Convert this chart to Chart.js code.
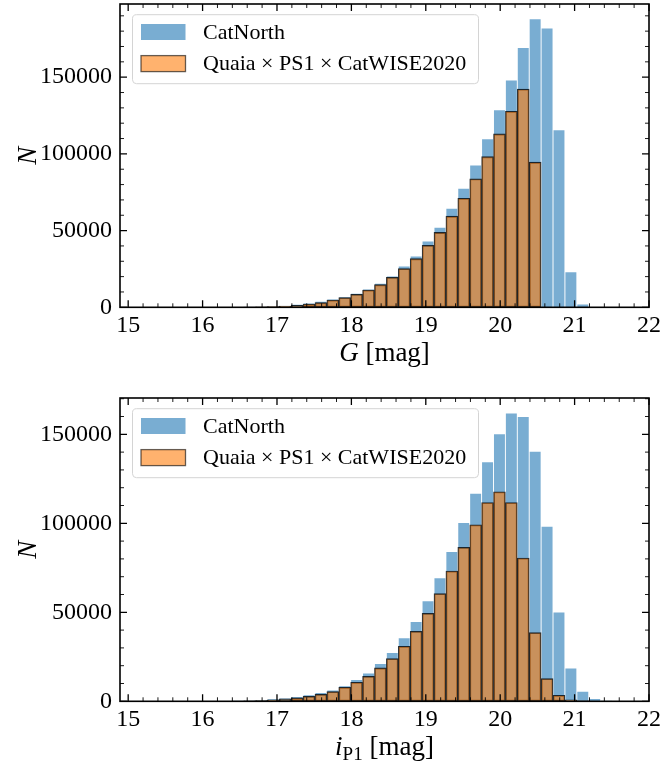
<!DOCTYPE html>
<html>
<head>
<meta charset="utf-8">
<script src="https://cdn.jsdelivr.net/npm/chart.js@4.4.1/dist/chart.umd.min.js"></script>
<style>
    html, body { margin: 0; padding: 0; background: #fff; overflow: hidden; }
    canvas { display: block; position: absolute; left: 0; }
</style>
</head>
<body>
<canvas id="hist-g" width="660" height="394" style="top:0px"></canvas>
<canvas id="hist-i" width="660" height="394" style="top:394px"></canvas>
<script>
// centres des classes (largeur 0.16 mag)
const binCenters = [15.99, 16.15, 16.31, 16.47, 16.63, 16.79, 16.95, 17.11, 17.27, 17.43,
    17.59, 17.75, 17.91, 18.07, 18.23, 18.39, 18.55, 18.71, 18.87, 19.03,
    19.19, 19.35, 19.51, 19.67, 19.83, 19.99, 20.15, 20.31, 20.47, 20.63,
    20.79, 20.95, 21.11, 21.27, 21.43, 21.59];

// panneau du haut : G
const catNorthG = [0, 0, 50, 100, 200, 400, 700, 1200, 1950, 2800,
    3900, 5400, 6900, 9100, 11900, 15650, 20400, 26900, 33500, 43250,
    52200, 64600, 77600, 92800, 109800, 128700, 148100, 169300, 188100, 182000,
    115700, 23200, 2150, 100, 0, 0];
const quaiaG = [0, 0, 0, 50, 100, 250, 450, 800, 1300, 2150,
    3000, 4750, 6300, 8450, 11300, 14750, 19550, 25200, 31700, 40400,
    48800, 59400, 71100, 83700, 98200, 113000, 127800, 142200, 94600, 0,
    0, 0, 0, 0, 0, 0];

// panneau du bas : i_P1
const catNorthI = [0, 50, 100, 200, 450, 950, 1350, 1900, 2650, 3600,
    4900, 6400, 8650, 12200, 15950, 21150, 27350, 35750, 44750, 56500,
    69450, 84200, 100500, 116800, 134600, 150300, 161900, 160000, 140400, 98300,
    50200, 18750, 5600, 1500, 300, 0];
const quaiaI = [0, 0, 50, 100, 200, 400, 800, 1350, 1900, 2800,
    3900, 5450, 7900, 10700, 14000, 18750, 24000, 30900, 39300, 49400,
    60500, 73200, 86500, 99200, 111700, 117700, 111700, 80500, 38600, 12750,
    3400, 800, 200, 0, 0, 0];

const xTicks = [15, 16, 17, 18, 19, 20, 21, 22];
const yTicks = [0, 50000, 100000, 150000];
const seriesLabels = ['CatNorth', 'Quaia \u00d7 PS1 \u00d7 CatWISE2020'];

const serif = "'Liberation Serif', 'Times New Roman', serif";
const blueFill = 'rgba(31, 119, 180, 0.6)';
const orangeFill = 'rgba(255, 127, 14, 0.6)';
const edgeColor = 'rgba(0, 0, 0, 0.6)';
const barEdgeColor = 'rgba(0, 0, 0, 0.78)';

Chart.defaults.font.family = serif;
Chart.defaults.color = '#000';

function toPoints(values) {
    return binCenters.map((x, i) => ({ x: x, y: values[i] }));
}

// cadre, graduations vers l'intérieur, légende et titres des axes
const decorations = {
    id: 'decorations',
    afterDraw(chart, args, opts) {
        const ctx = chart.ctx;
        const a = chart.chartArea;
        const xs = chart.scales.x;
        const ys = chart.scales.y;
        ctx.save();
        ctx.strokeStyle = '#000';

        // graduations mineures
        ctx.lineWidth = 0.9;
        ctx.beginPath();
        for (let k = 70; k <= 110; k++) {
            const v = k / 5;
            if (k % 5 === 0 || v < xs.min || v > xs.max) continue;
            const px = xs.getPixelForValue(v);
            ctx.moveTo(px, a.bottom); ctx.lineTo(px, a.bottom - 4);
            ctx.moveTo(px, a.top); ctx.lineTo(px, a.top + 4);
        }
        for (let v = 10000; v < ys.max; v += 10000) {
            if (v % 50000 === 0) continue;
            const py = ys.getPixelForValue(v);
            ctx.moveTo(a.left, py); ctx.lineTo(a.left + 4, py);
            ctx.moveTo(a.right, py); ctx.lineTo(a.right - 4, py);
        }
        ctx.stroke();

        // graduations majeures
        ctx.lineWidth = 1.3;
        ctx.beginPath();
        xTicks.forEach(v => {
            const px = xs.getPixelForValue(v);
            ctx.moveTo(px, a.bottom); ctx.lineTo(px, a.bottom - 7);
            ctx.moveTo(px, a.top); ctx.lineTo(px, a.top + 7);
        });
        yTicks.forEach(v => {
            const py = ys.getPixelForValue(v);
            ctx.moveTo(a.left, py); ctx.lineTo(a.left + 7, py);
            ctx.moveTo(a.right, py); ctx.lineTo(a.right - 7, py);
        });
        ctx.stroke();

        // cadre
        ctx.lineWidth = 1.6;
        ctx.strokeRect(a.left, a.top, a.right - a.left, a.bottom - a.top);

        // légende
        const bx = a.left + 12.5, by = a.top + 10.7, bw = 346, bh = 69;
        ctx.beginPath();
        if (ctx.roundRect) ctx.roundRect(bx, by, bw, bh, 4); else ctx.rect(bx, by, bw, bh);
        ctx.fillStyle = 'rgba(255, 255, 255, 0.8)';
        ctx.fill();
        ctx.lineWidth = 1;
        ctx.strokeStyle = '#d4d4d4';
        ctx.stroke();

        ctx.font = '22px ' + serif;
        ctx.textBaseline = 'middle';
        ctx.textAlign = 'left';
        chart.data.datasets.forEach((ds, i) => {
            const cy = by + 17.3 + i * 31.6;
            ctx.fillStyle = ds.backgroundColor;
            ctx.fillRect(bx + 8.5, cy - 8, 44.5, 16);
            if (ds.borderSkipped === false) {
                ctx.lineWidth = 1.3;
                ctx.strokeStyle = edgeColor;
                ctx.strokeRect(bx + 8.5, cy - 8, 44.5, 16);
            }
            ctx.fillStyle = '#000';
            ctx.fillText(ds.label, bx + 70.5, cy + 1);
        });

        // titre de l'axe x (texte mixte italique / indice)
        const parts = opts.xTitle;
        const fontOf = p => (p.italic ? 'italic ' : '') + (p.sub ? '19px ' : '27px ') + serif;
        let total = 0;
        parts.forEach(p => { ctx.font = fontOf(p); total += ctx.measureText(p.text).width; });
        let cx = (a.left + a.right) / 2 - total / 2;
        const base = a.bottom + 53.5;
        ctx.textBaseline = 'alphabetic';
        ctx.fillStyle = '#000';
        parts.forEach(p => {
            ctx.font = fontOf(p);
            ctx.fillText(p.text, cx, base + (p.sub ? 5 : 0));
            cx += ctx.measureText(p.text).width;
        });

        // titre de l'axe y
        ctx.save();
        ctx.translate(36, (a.top + a.bottom) / 2);
        ctx.rotate(-Math.PI / 2);
        ctx.font = 'italic 27px ' + serif;
        ctx.textAlign = 'center';
        ctx.fillText('N', 0, 0);
        ctx.restore();

        ctx.restore();
    }
};

function createHistogram(canvasId, blueValues, orangeValues, yMax, xTitle) {
    const ctx = document.getElementById(canvasId).getContext('2d');
    return new Chart(ctx, {
        type: 'bar',
        data: {
            datasets: [
                {
                    label: seriesLabels[0],
                    data: toPoints(blueValues),
                    backgroundColor: blueFill,
                    borderColor: 'rgba(255, 255, 255, 0.3)',
                    borderWidth: 0.8,
                    borderSkipped: 'bottom',
                    grouped: false,
                    barPercentage: 1,
                    categoryPercentage: 1,
                    order: 1
                },
                {
                    label: seriesLabels[1],
                    data: toPoints(orangeValues),
                    backgroundColor: orangeFill,
                    borderColor: barEdgeColor,
                    borderWidth: 1.15,
                    borderSkipped: false,
                    grouped: false,
                    barPercentage: 1,
                    categoryPercentage: 1,
                    order: 0
                }
            ]
        },
        options: {
            responsive: false,
            animation: false,
            devicePixelRatio: 1,
            layout: { padding: { left: 0, right: 11, top: 4, bottom: 0 } },
            plugins: {
                legend: { display: false },
                tooltip: { enabled: false },
                decorations: { xTitle: xTitle }
            },
            scales: {
                x: {
                    type: 'linear',
                    offset: false,
                    min: 14.89,
                    max: 22,
                    grid: { display: false, drawTicks: false },
                    border: { display: false },
                    afterBuildTicks: scale => { scale.ticks = xTicks.map(v => ({ value: v })); },
                    afterFit: scale => { scale.height = 86.7; scale.paddingLeft = 0; scale.paddingRight = 0; },
                    ticks: {
                        font: { size: 24 },
                        color: '#000',
                        padding: 4,
                        maxRotation: 0,
                        callback: v => String(v)
                    }
                },
                y: {
                    min: 0,
                    max: yMax,
                    grid: { display: false, drawTicks: false },
                    border: { display: false },
                    afterBuildTicks: scale => { scale.ticks = yTicks.map(v => ({ value: v })); },
                    afterFit: scale => { scale.width = 120; scale.paddingTop = 0; scale.paddingBottom = 0; },
                    ticks: {
                        font: { size: 24 },
                        color: '#000',
                        padding: 8,
                        callback: v => String(v)
                    }
                }
            }
        },
        plugins: [decorations]
    });
}

createHistogram('hist-g', catNorthG, quaiaG, 197700, [{ text: 'G', italic: true }, { text: ' [mag]' }]);
createHistogram('hist-i', catNorthI, quaiaI, 170400,
    [{ text: 'i', italic: true }, { text: 'P1', sub: true }, { text: ' [mag]' }]);
</script>
</body>
</html>
